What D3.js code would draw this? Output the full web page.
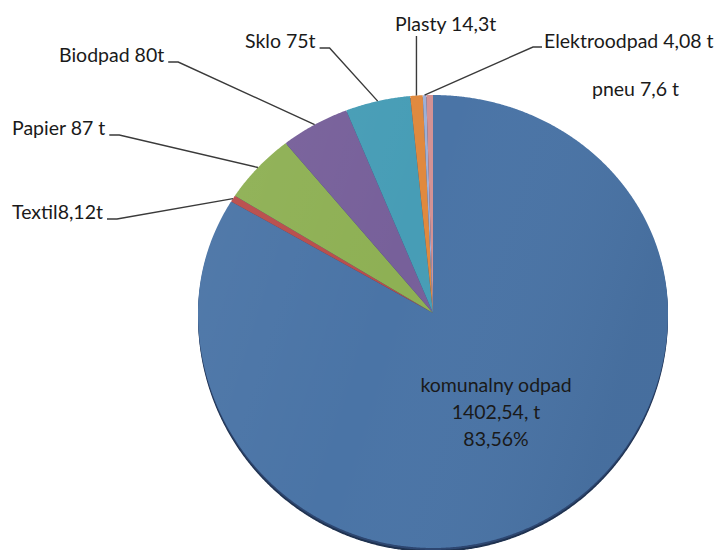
<!DOCTYPE html>
<html><head><meta charset="utf-8">
<script src="https://cdn.jsdelivr.net/npm/d3@7"></script>
<style>body{margin:0;background:#fff} svg{display:block}</style>
</head><body>
<svg id="c" width="719" height="550"></svg>
<script>
// ---- data ----
const categories = ["komunalny odpad","Textil","Papier","Biodpad","Sklo","Plasty","Elektroodpad","pneu"];
const values = [1402.54, 8.12, 87, 80, 75, 14.3, 4.08, 7.6];
const labelTexts = ["komunalny odpad\n1402,54, t\n83,56%","Textil8,12t","Papier 87 t","Biodpad 80t","Sklo 75t","Plasty 14,3t","Elektroodpad 4,08 t","pneu 7,6 t"];
const colors = ["#4a74a6","#b94d4b","#8eb054","#77609a","#479db6","#e0893e","#9db0d8","#d39294"];

// ---- layout ----
const cx = 433, cy = 313, RX = 235, RYT = 218, RYB = 235;
const layout = [
  {x:496, y:392, anchor:"middle", lh:27, leader:"none"},
  {x:12,  y:219, anchor:"start", leader:"elbow"},
  {x:12,  y:135, anchor:"start", leader:"elbow"},
  {x:59,  y:62,  anchor:"start", leader:"elbow"},
  {x:245, y:48,  anchor:"start", leader:"elbow"},
  {x:395, y:31,  anchor:"start", leader:"vertical", top:36},
  {x:544, y:48,  anchor:"start", leader:"elbowLeft"},
  {x:592, y:96,  anchor:"start", leader:"none"}
];

const svg = d3.select("#c");
const data = categories.map((c,i)=>({name:c, value:values[i], i}));
const pie = d3.pie().value(d=>d.value).sort(null);
const arcs = pie(data);

function proj(a, k=1){
  const c = Math.cos(a);
  return [cx + Math.sin(a)*RX*k, cy - c*(c>0?RYT:RYB)*k];
}
function slicePath(a0, a1, dy=0){
  const p = d3.path();
  p.moveTo(cx, cy+dy);
  const n = Math.max(2, Math.ceil((a1-a0)/0.005));
  for(let j=0;j<=n;j++){
    const a = a0 + (a1-a0)*j/n;
    const q = proj(a);
    p.lineTo(q[0], q[1]+dy);
  }
  p.closePath();
  return p.toString();
}

const defs = svg.append("defs");
const g1 = defs.append("linearGradient").attr("id","shade").attr("x1","0").attr("y1","0").attr("x2","1").attr("y2","0.3");
g1.append("stop").attr("offset","0").attr("stop-color","#fff").attr("stop-opacity",0.05);
g1.append("stop").attr("offset","0.5").attr("stop-color","#fff").attr("stop-opacity",0.0);
g1.append("stop").attr("offset","1").attr("stop-color","#000").attr("stop-opacity",0.05);

// rim (3D thickness)
svg.append("path").attr("d", slicePath(0, 2*Math.PI, 4)).attr("fill","#1f3250");
svg.append("path").attr("d", slicePath(0, 2*Math.PI, 2)).attr("fill","#2d4670");

svg.selectAll("path.slice").data(arcs).join("path")
  .attr("class","slice")
  .attr("d", d=>slicePath(d.startAngle, d.endAngle))
  .attr("fill", d=>colors[d.data.i]);

svg.append("path").attr("d", slicePath(0, 2*Math.PI)).attr("fill","url(#shade)");

// labels
const font = "Lato, 'Open Sans', sans-serif";
arcs.forEach((d)=>{
  const i = d.data.i, L = layout[i];
  const lines = labelTexts[i].split("\n");
  const t = svg.append("text").attr("font-family",font).attr("font-size",19.5)
     .attr("fill","#1a1a1a").attr("text-anchor",L.anchor);
  lines.forEach((s,k)=>t.append("tspan").attr("x",L.x).attr("y",L.y+k*(L.lh||0)).text(s));
  const mid = (d.startAngle+d.endAngle)/2;
  const e = proj(mid);
  let pts = null;
  if(L.leader==="elbow"){
    const w = t.node().getComputedTextLength();
    const x0 = L.x + w + 4;
    pts = [[x0, L.y],[x0+10, L.y], e];
  } else if(L.leader==="elbowLeft"){
    pts = [[L.x-2, L.y-1],[L.x-11, L.y-1], e];
  } else if(L.leader==="vertical"){
    pts = [[e[0], L.top], e];
  }
  if(pts){
    svg.append("path").attr("d", d3.line()(pts)).attr("fill","none")
      .attr("stroke","#3a3a3a").attr("stroke-width",1.4);
  }
});
</script>
</body></html>
